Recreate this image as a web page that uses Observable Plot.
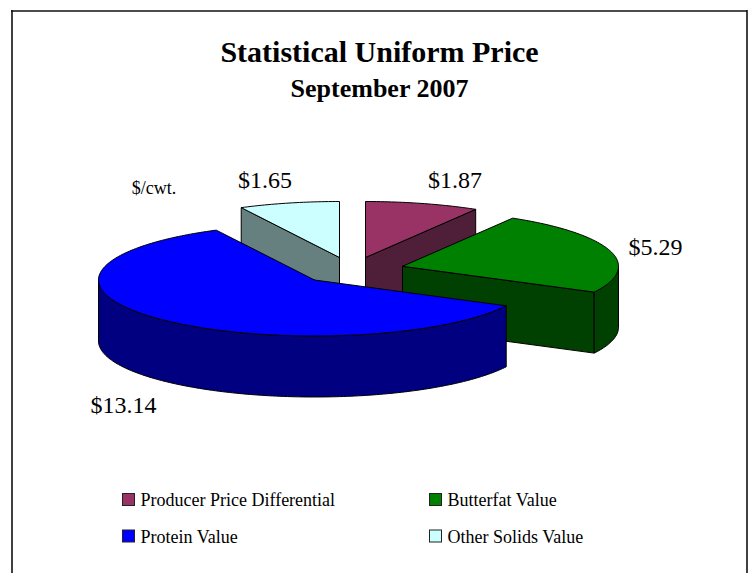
<!DOCTYPE html>
<html>
<head>
<meta charset="utf-8">
<script src="https://cdn.jsdelivr.net/npm/d3@7"></script>
<script src="https://cdn.jsdelivr.net/npm/@observablehq/plot@0.6"></script>
<style>
  html, body { margin: 0; padding: 0; background: #fff; }
  svg { display: block; }
</style>
</head>
<body>
<div id="chart"></div>
<script>
const categories = ["Producer Price Differential", "Butterfat Value", "Protein Value", "Other Solids Value"];
const values = [1.87, 5.29, 13.14, 1.65];
const valueLabels = ["$1.87", "$5.29", "$13.14", "$1.65"];
const topColors = ["#993366", "#008000", "#0000ff", "#ccffff"];
const sideColors = ["#4f1e38", "#004000", "#000080", "#668080"];

// Layout (pixels): where each exploded slice's apex lands, and the pie's tilted shape
const apexX = [365, 402, 314, 339];
const apexY = [257, 265.8, 279.5, 257];
const rx = 216, ry = 56, depth = 61;
const labelX = [454.5, 655, 123, 264.5];
const labelY = [187.7, 254.3, 412.3, 187.7];
const legendX = [122.5, 429.5, 122.5, 429.5];
const legendY = [493.5, 493.5, 530, 530];

const arcs = d3.pie().sort(null).value(d => d)(values);

const deg = Math.PI / 180;
const pt = (i, t, drop = 0) => ({
  x: apexX[i] + rx * Math.sin(t),
  y: apexY[i] - ry * Math.cos(t) + drop
});
const apex = (i, drop = 0) => ({x: apexX[i], y: apexY[i] + drop});
const sweep = (a, b) => {
  const n = Math.max(2, Math.ceil(Math.abs(b - a) / deg));
  return d3.range(n + 1).map(k => a + (b - a) * k / n);
};
const closed = pts => [...pts, pts[0]];

const topFace = i => closed([apex(i), ...sweep(arcs[i].startAngle, arcs[i].endAngle).map(t => pt(i, t))]);
const cutFace = (i, t) => closed([apex(i), pt(i, t), pt(i, t, depth), apex(i, depth)]);
const wall = (i, a, b) => {
  const ts = sweep(a, b);
  return closed([...ts.map(t => pt(i, t)), ...ts.slice().reverse().map(t => pt(i, t, depth))]);
};

const face = (pts, fill) => Plot.line(pts, {x: "x", y: "y", fill, stroke: "#000", strokeWidth: 1, curve: "linear"});

const serif = "Liberation Serif";
const txt = (s, x, y, size, opts = {}) =>
  Plot.text([{s, x, y}], {x: "x", y: "y", text: "s", fontSize: size, fontFamily: serif, fill: "#000",
    textAnchor: "middle", lineAnchor: "bottom", ...opts});

const legendRows = categories.map((c, i) => ({
  c, x1: legendX[i], x2: legendX[i] + 12, y1: legendY[i], y2: legendY[i] + 12,
  tx: legendX[i] + 17.5, ty: legendY[i] + 12.3, fill: topColors[i]
}));

const chart = Plot.plot({
  width: 751, height: 573,
  marginTop: 0, marginRight: 0, marginBottom: 0, marginLeft: 0,
  x: {type: "linear", domain: [0, 751], range: [0, 751], axis: null},
  y: {type: "linear", domain: [0, 573], range: [0, 573], axis: null},
  marks: [
    // Frame: left, right and top only
    Plot.ruleX([{x: 11.5}, {x: 746.5}], {x: "x", y1: () => 10, y2: () => 573, stroke: "#111", strokeWidth: 1.6}),
    Plot.ruleY([{y: 10.5}], {y: "y", x1: () => 11, x2: () => 747, stroke: "#111", strokeWidth: 1.6}),

    // Back slices
    face(cutFace(0, arcs[0].endAngle), sideColors[0]),
    face(topFace(0), topColors[0]),
    face(cutFace(3, arcs[3].startAngle), sideColors[3]),
    face(topFace(3), topColors[3]),

    // Butterfat
    face(cutFace(1, arcs[1].endAngle), sideColors[1]),
    face(wall(1, arcs[1].endAngle, Math.PI / 2), sideColors[1]),
    face(topFace(1), topColors[1]),

    // Protein
    face(wall(2, arcs[2].startAngle, 1.5 * Math.PI), sideColors[2]),
    face(topFace(2), topColors[2]),

    // Titles
    txt("Statistical Uniform Price", 379, 61.3, 30, {fontWeight: "bold"}),
    txt("September 2007", 379, 96, 26, {fontWeight: "bold"}),
    txt("$/cwt.", 153.5, 193.3, 18),

    // Value labels
    ...valueLabels.map((s, i) => txt(s, labelX[i], labelY[i], 24)),

    // Legend
    Plot.rect(legendRows, {x1: "x1", x2: "x2", y1: "y1", y2: "y2", fill: "fill", stroke: "#222", strokeWidth: 1}),
    Plot.text(legendRows, {x: "tx", y: "ty", text: "c", fontSize: 18, fontFamily: serif, fill: "#000",
      textAnchor: "start", lineAnchor: "bottom"})
  ]
});
document.getElementById("chart").append(chart);
</script>
</body>
</html>
